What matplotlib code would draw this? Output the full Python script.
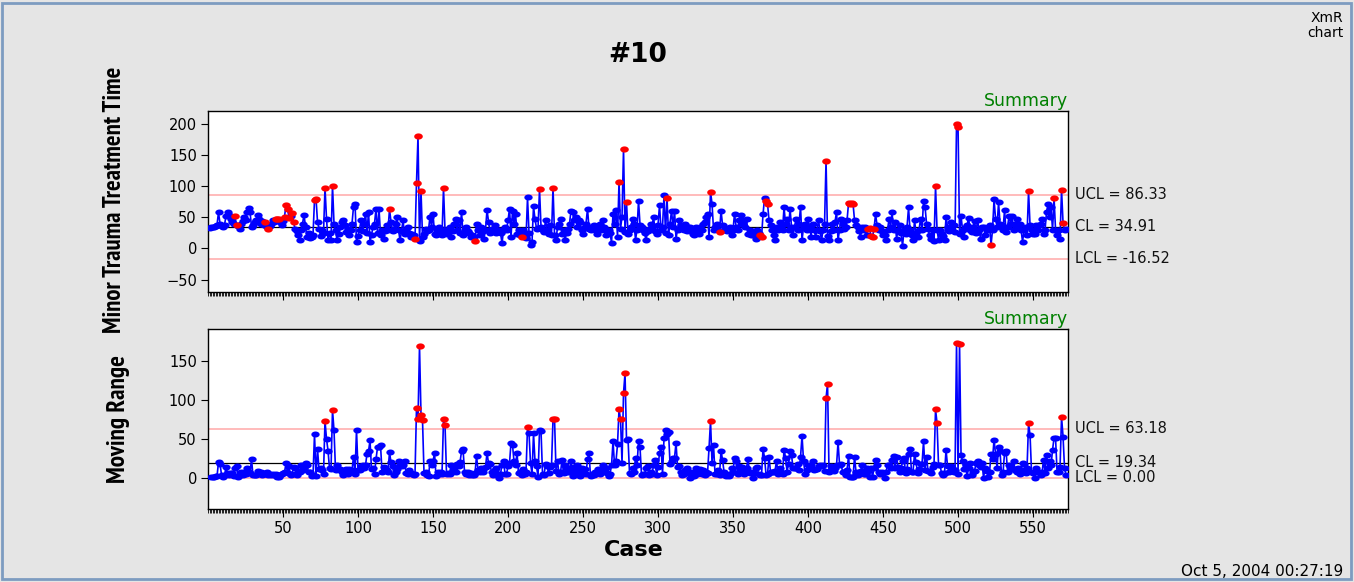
import numpy as np
import matplotlib
matplotlib.use("Agg")
import matplotlib.pyplot as plt
from matplotlib import font_manager as fm
from matplotlib.patches import Rectangle
from matplotlib.path import Path
from matplotlib.ticker import MultipleLocator, FixedLocator
import matplotlib.transforms as mtransforms

# ---------------- data ----------------
values = [
    33, 34, 35, 34, 36, 38, 58, 40, 36, 35,
    38, 52, 58, 54, 48, 42, 40, 52, 37, 36,
    32, 40, 44, 51, 46, 58, 65, 59, 35, 38,
    42, 45, 54, 48, 40, 44, 38, 43, 35, 31,
    36, 40, 45, 42, 47, 48, 47, 43, 38, 44,
    51, 70, 64, 49, 52, 57, 43, 31, 28, 21,
    13, 30, 40, 54, 35, 18, 25, 17, 19, 22,
    78, 80, 43, 32, 20, 30, 25, 98, 48, 13,
    25, 14, 101, 40, 30, 13, 24, 35, 42, 45,
    38, 27, 32, 21, 30, 40, 67, 72, 10, 20,
    30, 45, 28, 40, 56, 25, 59, 11, 22, 35,
    40, 64, 25, 64, 22, 30, 16, 28, 38, 30,
    63, 43, 28, 32, 40, 51, 30, 13, 28, 45,
    24, 30, 35, 25, 19, 24, 21, 16, 106, 181,
    12, 92, 18, 24, 32, 28, 30, 51, 35, 56,
    24, 22, 30, 35, 27, 22, 97, 29, 24, 30,
    35, 19, 28, 40, 48, 30, 45, 25, 59, 22,
    30, 35, 28, 25, 19, 22, 18, 12, 40, 30,
    22, 35, 28, 16, 30, 62, 43, 25, 32, 28,
    38, 25, 30, 30, 25, 8, 30, 35, 30, 45,
    64, 19, 61, 40, 56, 24, 30, 22, 19, 30,
    25, 17, 82, 25, 6, 11, 68, 47, 32, 33,
    95, 35, 30, 27, 45, 30, 24, 38, 22, 98,
    22, 13, 35, 40, 47, 24, 30, 13, 25, 32,
    40, 61, 59, 45, 51, 35, 45, 43, 30, 24,
    35, 40, 64, 32, 30, 35, 38, 30, 24, 35,
    40, 30, 46, 35, 22, 28, 30, 25, 9, 56,
    40, 62, 19, 107, 32, 51, 160, 26, 74, 24,
    30, 35, 48, 40, 14, 30, 77, 38, 35, 30,
    25, 13, 28, 32, 40, 35, 51, 28, 24, 38,
    70, 30, 35, 86, 25, 81, 22, 40, 61, 35,
    61, 16, 30, 45, 38, 35, 30, 40, 28, 35,
    35, 28, 24, 22, 35, 30, 24, 35, 30, 40,
    43, 50, 56, 18, 91, 72, 30, 35, 40, 30,
    26, 61, 38, 30, 32, 28, 30, 35, 22, 30,
    56, 35, 30, 45, 54, 40, 45, 35, 48, 24,
    30, 22, 22, 28, 16, 30, 25, 22, 18, 55,
    81, 77, 72, 45, 38, 30, 22, 13, 35, 30,
    43, 35, 30, 66, 40, 48, 30, 64, 35, 22,
    35, 48, 30, 40, 67, 13, 35, 40, 30, 47,
    35, 19, 40, 30, 19, 30, 45, 28, 13, 30,
    39, 141, 20, 13, 28, 39, 30, 43, 59, 13,
    30, 48, 40, 32, 35, 45, 73, 72, 73, 72,
    45, 38, 35, 28, 19, 35, 30, 35, 22, 32,
    33, 20, 19, 32, 55, 38, 30, 35, 28, 22,
    22, 14, 30, 47, 35, 58, 30, 43, 16, 30,
    37, 25, 4, 30, 24, 35, 66, 29, 22, 14,
    45, 25, 19, 30, 48, 30, 77, 67, 40, 31,
    22, 16, 30, 12, 100, 30, 14, 30, 24, 20,
    14, 50, 35, 28, 43, 30, 37, 27, 200, 195,
    23, 52, 30, 19, 35, 37, 49, 30, 27, 35,
    44, 25, 46, 30, 16, 35, 35, 22, 31, 30,
    37, 6, 30, 79, 48, 35, 74, 40, 37, 30,
    62, 27, 35, 52, 40, 52, 30, 40, 47, 35,
    40, 30, 11, 29, 35, 22, 92, 37, 30, 24,
    24, 37, 30, 37, 40, 47, 24, 30, 59, 72,
    50, 66, 30, 81, 30, 22, 30, 16, 94, 41,
    29, 32,
]

# cases flagged (red) on the individuals chart
flagged_cases = [18, 19, 38, 40, 45, 46, 47, 51, 52, 53, 54, 56, 57, 71, 72,
                 78, 83, 121, 138, 139, 140, 142, 157, 178, 209, 221, 230,
                 274, 277, 279, 306, 335, 341, 368, 369, 372, 373, 412,
                 427, 428, 429, 430, 440, 441, 442, 443, 444, 485, 499, 500,
                 522, 547, 564, 569, 570]

x_ucl, x_cl, x_lcl = 86.33, 34.91, -16.52
mr_ucl, mr_cl, mr_lcl = 63.18, 19.34, 0.00

x_ticks = [50, 100, 150, 200, 250, 300, 350, 400, 450, 500, 550]
x_yticks = [-50, 0, 50, 100, 150, 200]
mr_yticks = [0, 50, 100, 150]

title = "#10"
ylabel_top = "Minor Trauma Treatment Time"
ylabel_bot = "Moving Range"
xlabel = "Case"
stamp = "Oct 5, 2004 00:27:19"

# ---------------- derived ----------------
vals = np.array(values, dtype=float)
N = len(vals)
cases = np.arange(1, N + 1)
mr = np.abs(np.diff(vals))
mr_cases = cases[1:]
flag = np.isin(cases, flagged_cases) | (vals > x_ucl)
mr_flag = mr > mr_ucl


# ---------------- a narrow bold face (Arial Narrow Bold look-alike) ----------------
def narrow_bold():
    candidates = ["Liberation Sans Narrow", "Arial Narrow", "PT Sans Narrow",
                  "Roboto Condensed", "Pragati Narrow", "Open Sans Condensed",
                  "Archivo Narrow", "Barlow Semi Condensed", "Asap Condensed"]
    for cand in candidates:
        for f in fm.fontManager.ttflist:
            p = f.fname.lower()
            if f.name == cand and f.weight in (700, "bold") and "italic" not in p \
                    and "oblique" not in p:
                return fm.FontProperties(fname=f.fname)
    return fm.FontProperties(family="DejaVu Sans", weight="bold")


NARROW_FP = narrow_bold()

# ---------------- figure ----------------
W, H = 1354, 582
fig = plt.figure(figsize=(W / 100, H / 100), dpi=100, facecolor="#e5e5e5")
fig.patches.append(Rectangle((2 / W, 3 / H), (W - 5) / W, (H - 6) / H,
                             transform=fig.transFigure, fill=False,
                             edgecolor="#7d9cc0", lw=2.0))

plt.rcParams["font.family"] = ["DejaVu Sans"]

ax1 = fig.add_axes([208 / W, 1 - 292 / H, 860 / W, 181 / H])
ax2 = fig.add_axes([208 / W, 1 - 509 / H, 860 / W, 180 / H])

BLUE = "#0000ff"
RED = "#ff0000"
PINK = "#ffa8a8"

# slightly flattened round marker, as in the original
t = np.linspace(0, 2 * np.pi, 33)
ellipse = Path(np.column_stack([np.cos(t), 0.72 * np.sin(t)]), closed=True)


def style(ax, ylim, yticks, labels_bottom):
    ax.set_facecolor("white")
    ax.set_xlim(0, 573.3)
    ax.set_ylim(*ylim)
    ax.yaxis.set_major_locator(FixedLocator(yticks))
    ax.xaxis.set_major_locator(FixedLocator(x_ticks))
    ax.xaxis.set_minor_locator(MultipleLocator(1))
    ax.tick_params(axis="x", which="minor", direction="out", length=3.2,
                   width=0.6, color="black")
    ax.tick_params(axis="x", which="major", direction="out", length=5.5,
                   width=0.8, labelsize=10.5, labelbottom=labels_bottom, pad=3)
    ax.tick_params(axis="y", which="major", direction="out", length=5,
                   width=0.8, labelsize=10.5, pad=3)
    for s in ax.spines.values():
        s.set_linewidth(1.0)
        s.set_color("black")


style(ax1, (-70, 221), x_yticks, False)
style(ax2, (-40, 191), mr_yticks, True)


def draw(ax, xs, ys, fl, ucl, cl, lcl):
    ax.axhline(ucl, color=PINK, lw=1.1, zorder=1)
    ax.axhline(lcl, color=PINK, lw=1.1, zorder=1)
    ax.axhline(cl, color="black", lw=0.9, zorder=1)
    ax.plot(xs, ys, color=BLUE, lw=1.2, zorder=2)
    ax.plot(xs[~fl], ys[~fl], linestyle="none", marker=ellipse, color=BLUE,
            ms=6.0, mew=0, zorder=3)
    ax.plot(xs[fl], ys[fl], linestyle="none", marker=ellipse, color=RED,
            ms=6.2, mew=0, zorder=4)


draw(ax1, cases, vals, flag, x_ucl, x_cl, x_lcl)
draw(ax2, mr_cases, mr, mr_flag, mr_ucl, mr_cl, mr_lcl)

# limit labels
for ax, items in ((ax1, [("UCL = %.2f" % x_ucl, x_ucl), ("CL = %.2f" % x_cl, x_cl),
                         ("LCL = %.2f" % x_lcl, x_lcl)]),
                  (ax2, [("UCL = %.2f" % mr_ucl, mr_ucl), ("CL = %.2f" % mr_cl, mr_cl),
                         ("LCL = %.2f" % mr_lcl, mr_lcl)])):
    tr = mtransforms.blended_transform_factory(ax.transAxes, ax.transData)
    for txt, yv in items:
        ax.text(1.008, yv, txt, transform=tr, ha="left", va="center",
                fontsize=10.5, color="#111111")
    ax.text(1.0, 1.005, "Summary", transform=ax.transAxes, ha="right",
            va="bottom", fontsize=12.5, color="#008000")

# texts
fig.text(638 / W, 1 - 55 / H, title, ha="center", va="center",
         fontsize=19, fontweight="bold")
yl1 = fig.text(115 / W, 1 - 200 / H, ylabel_top, ha="center", va="center",
               rotation=90, fontproperties=NARROW_FP)
yl2 = fig.text(118 / W, 1 - 419 / H, ylabel_bot, ha="center", va="center",
               rotation=90, fontproperties=NARROW_FP)
yl1.set_fontsize(16)
yl2.set_fontsize(16)
fig.text(634 / W, 1 - 550 / H, xlabel, ha="center", va="center",
         fontsize=16, fontweight="bold")
fig.text(1343 / W, 1 - 18 / H, "XmR", ha="right", va="center", fontsize=10)
fig.text(1343 / W, 1 - 33 / H, "chart", ha="right", va="center", fontsize=10)
fig.text(1343 / W, 1 - 571 / H, stamp, ha="right", va="center", fontsize=11)

# fit the y-axis labels to the length they have in the original
fig.canvas.draw()
rend = fig.canvas.get_renderer()
for txt, target in ((yl1, 266.0), (yl2, 128.0)):
    h = txt.get_window_extent(rend).height
    txt.set_fontsize(txt.get_fontsize() * target / h)

fig.savefig("out.png", dpi=100, facecolor=fig.get_facecolor())
